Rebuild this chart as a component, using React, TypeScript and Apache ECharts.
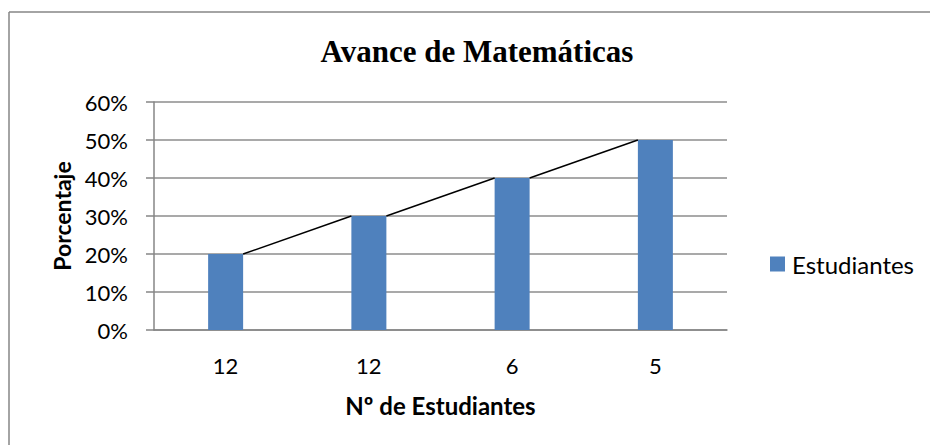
import React, { useEffect, useRef } from "react";
import * as echarts from "echarts";

const categories = ["12", "12", "6", "5"];
const seriesName = "Estudiantes";
const values = [20, 30, 40, 50];
const yTicks = [0, 10, 20, 30, 40, 50, 60];
const titleText = "Avance de Matemáticas";
const yName = "Porcentaje";
const xName = "Nº de Estudiantes";

const BAR_W = 35;

export default function App() {
  const ref = useRef<HTMLDivElement>(null);
  useEffect(() => {
    if (!ref.current) return;
    const chart = echarts.init(ref.current, undefined, { renderer: "svg" });
    const idx = categories.map((_, i) => String(i));
    chart.setOption({
      animation: false,
      backgroundColor: "#fff",
      title: {
        text: titleText,
        left: 477,
        top: 36,
        padding: 0,
        textAlign: "center",
        textStyle: {
          fontFamily: "Liberation Serif",
          fontWeight: "bold",
          fontSize: 31,
          color: "#000",
        },
      },
      legend: {
        data: [seriesName],
        left: 770,
        top: 252,
        padding: 0,
        itemWidth: 15,
        itemHeight: 15,
        itemGap: 6,
        icon: "rect",
        textStyle: { fontFamily: "Lato", fontSize: 24, color: "#000", padding: [0, 0, 0, 2] },
      },
      graphic: [
        {
          type: "line",
          shape: { x1: 9, y1: 12, x2: 940, y2: 12 },
          style: { stroke: "#868686", lineWidth: 1.5 },
        },
        {
          type: "line",
          shape: { x1: 9, y1: 12, x2: 9, y2: 450 },
          style: { stroke: "#868686", lineWidth: 1.5 },
        },
      ],
      grid: { left: 154, right: 203, top: 102, bottom: 115 },
      xAxis: {
        type: "category",
        data: idx,
        name: xName,
        nameLocation: "middle",
        nameGap: 63,
        nameTextStyle: { fontFamily: "Lato", fontWeight: "bold", fontSize: 24, color: "#000" },
        axisLine: { lineStyle: { color: "#868686", width: 1.5 } },
        axisTick: { show: false },
        axisLabel: {
          formatter: (_v: string, i: number) => categories[i],
          fontFamily: "Lato",
          fontSize: 22,
          color: "#000",
          margin: 24,
        },
      },
      yAxis: {
        type: "value",
        min: yTicks[0],
        max: yTicks[yTicks.length - 1],
        interval: 10,
        name: yName,
        nameLocation: "middle",
        nameGap: 80,
        nameTextStyle: { fontFamily: "Lato", fontWeight: "bold", fontSize: 23, color: "#000" },
        axisLine: { show: true, lineStyle: { color: "#868686", width: 1.5 } },
        axisTick: { show: true, length: 8, lineStyle: { color: "#868686", width: 1.5 } },
        splitLine: { lineStyle: { color: "#8c8c8c", width: 1.5 } },
        axisLabel: {
          formatter: (v: number) => v + "%",
          fontFamily: "Lato",
          fontSize: 22,
          color: "#000",
          margin: 26,
        },
      },
      series: [
        {
          name: seriesName,
          type: "bar",
          data: values,
          barWidth: BAR_W,
          itemStyle: { color: "#4F81BD" },
        },
        {
          name: "serieslines",
          type: "custom",
          data: values.map((v, i) => [i, v]),
          z: 5,
          silent: true,
          renderItem: (params: any, api: any) => {
            const i = api.value(0);
            if (i === 0) return null;
            const prev = api.coord([i - 1, values[i - 1]]);
            const cur = api.coord([i, api.value(1)]);
            return {
              type: "line",
              shape: {
                x1: prev[0] + BAR_W / 2,
                y1: prev[1],
                x2: cur[0] - BAR_W / 2,
                y2: cur[1],
              },
              style: { stroke: "#000", lineWidth: 1.5 },
            };
          },
        },
      ],
    });
    return () => chart.dispose();
  }, []);
  return <div ref={ref} style={{ width: 930, height: 445, position: "absolute", left: 0, top: 0 }} />;
}
